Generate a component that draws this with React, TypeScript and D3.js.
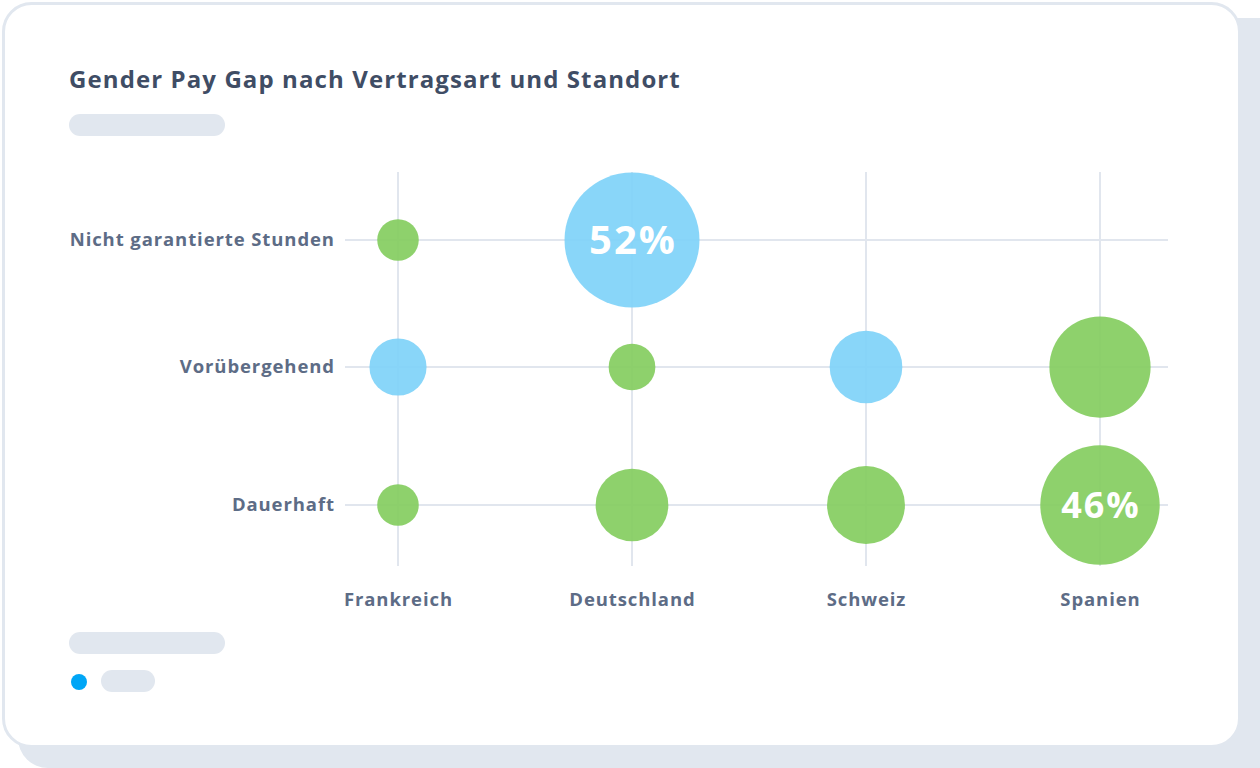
import React from "react";
import * as d3 from "d3";

const title = "Gender Pay Gap nach Vertragsart und Standort";
const countries = ["Frankreich", "Deutschland", "Schweiz", "Spanien"];
const contracts = ["Nicht garantierte Stunden", "Vorübergehend", "Dauerhaft"];
// value per contract row (in order above) per country; null = no bubble
const gapNichtGarantiert = [16, 52, null, null];
const gapVoruebergehend = [22, 18, 28, 39];
const gapDauerhaft = [16, 28, 30, 46];
const groupNichtGarantiert = ["g", "b", "", ""];
const groupVoruebergehend = ["b", "g", "b", "g"];
const groupDauerhaft = ["g", "g", "g", "g"];
const highlighted = ["52%", "46%"];

const W = 1260;
const H = 768;
const FONT = "'Open Sans', 'Noto Sans', sans-serif";

export default function App() {
  const x = d3.scalePoint<string>().domain(countries).range([398, 1100]);
  // uneven row spacing in reference
  const y = d3.scaleOrdinal<string, number>().domain(contracts).range([240, 367, 505]);
  const r = d3.scaleLinear().domain([0, 52]).range([0, 67.5]);
  const color: Record<string, string> = { b: "#7fd2f9", g: "#84cd5f" };

  const rows = [
    { c: contracts[0], v: gapNichtGarantiert, g: groupNichtGarantiert },
    { c: contracts[1], v: gapVoruebergehend, g: groupVoruebergehend },
    { c: contracts[2], v: gapDauerhaft, g: groupDauerhaft },
  ];
  const bubbles = rows.flatMap((row) =>
    countries
      .map((co, i) => ({ country: co, contract: row.c, v: row.v[i], g: row.g[i] }))
      .filter((d) => d.v != null)
  );

  const xMin = 345, xMax = 1168, yTop = 172, yBot = 566;
  const LS = 0.9;

  return (
    <svg width={W} height={H} style={{ position: "absolute", left: 0, top: 0 }}>
      <rect x={0} y={0} width={W} height={H} fill="#ffffff" />
      <rect x={18} y={18} width={1280} height={750} rx={30} fill="#e1e7ef" />
      <rect x={3.5} y={3.5} width={1236} height={743} rx={28} fill="#ffffff" stroke="#e1e7ef" strokeWidth={3} />
      <text x={69} y={88} fontFamily={FONT} fontWeight={700} fontSize={24} letterSpacing={1.1} fill="#3f4d65">{title}</text>
      <rect x={69} y={114} width={156} height={22} rx={11} fill="#e1e7ef" />

      {countries.map((c) => (
        <line key={c} x1={x(c)} x2={x(c)} y1={yTop} y2={yBot} stroke="#e1e6ee" strokeWidth={2} />
      ))}
      {contracts.map((c) => (
        <line key={c} x1={xMin} x2={xMax} y1={y(c)} y2={y(c)} stroke="#e1e6ee" strokeWidth={2} />
      ))}
      {contracts.map((c) => (
        <text key={c} x={334 + LS} y={y(c)} dy="0.35em" textAnchor="end" fontFamily={FONT} fontWeight={700} fontSize={18.5} letterSpacing={LS} fill="#5d6c86">{c}</text>
      ))}
      {countries.map((c) => (
        <text key={c} x={(x(c) as number) + LS / 2} y={606} textAnchor="middle" fontFamily={FONT} fontWeight={700} fontSize={18.5} letterSpacing={LS} fill="#5d6c86">{c}</text>
      ))}
      {bubbles.map((d) => (
        <circle key={d.country + d.contract} cx={x(d.country)} cy={y(d.contract)} r={r(d.v as number)} fill={color[d.g]} fillOpacity={0.92} />
      ))}
      {bubbles
        .filter((d) => highlighted.includes(`${d.v}%`))
        .map((d) => (
          <text key={"t" + d.country + d.contract} x={(x(d.country) as number) + 1} y={y(d.contract)} dy="0.36em" textAnchor="middle" fontFamily={FONT} fontWeight={700} fontSize={d.v === 52 ? 40 : 36} letterSpacing={2} fill="#ffffff">{`${d.v}%`}</text>
        ))}

      <rect x={69} y={632} width={156} height={22} rx={11} fill="#e1e7ef" />
      <circle cx={79} cy={682} r={8} fill="#00a6f6" />
      <rect x={101} y={670} width={54} height={22} rx={11} fill="#e1e7ef" />
    </svg>
  );
}
